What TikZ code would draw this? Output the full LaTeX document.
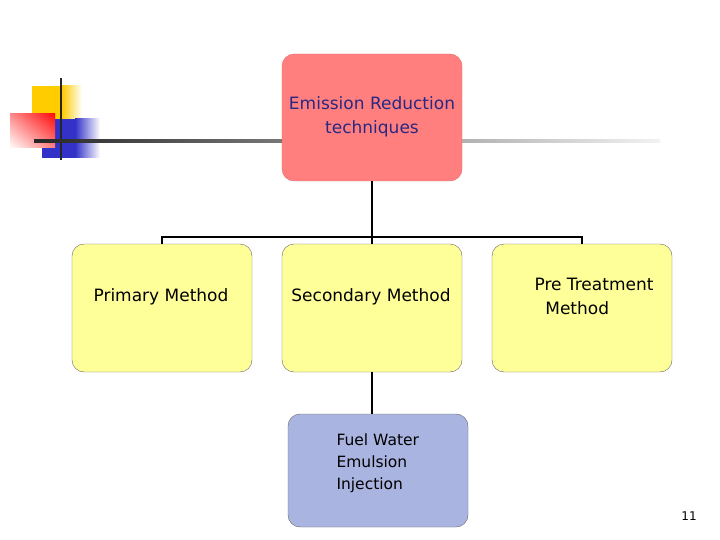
\documentclass[tikz,border=0pt]{standalone}
\usepackage{fontspec}
\setmainfont{DejaVu Sans}
\definecolor{dyel}{RGB}{255,204,0}
\definecolor{dblu}{RGB}{50,50,200}
\definecolor{tpink}{RGB}{255,127,127}
\definecolor{tpinkd}{RGB}{230,110,110}
\definecolor{tnavy}{RGB}{40,40,130}
\definecolor{lyel}{RGB}{255,255,153}
\definecolor{lblu}{RGB}{170,180,224}
\begin{document}
\begin{tikzpicture}[x=1pt,y=-1pt,
  box/.style={draw=black!60,rounded corners=12pt,minimum width=180pt},
  lbl/.style={font=\fontsize{17}{24}\selectfont,align=center},
  conn/.style={line width=2.5pt}]
\useasboundingbox (0,0) rectangle (720,540);
% decoration
\fill[dyel] (32,86) rectangle (62,120);
\shade[left color=dyel,right color=white] (62,86) rectangle (82,120);
\fill[dblu] (42,119) rectangle (75,158);
\shade[left color=dblu,right color=white] (75,119) rectangle (100,158);
\shade[left color=white,right color=red] (10,114) rectangle (55,148);
\shade[top color=red!90, bottom color=white,opacity=0.5] (10,114) rectangle (55,148);
\draw[line width=2.5pt,black!85] (61,78) -- (61,160);
\shade[left color=black!85,right color=black!5] (34,140) rectangle (660,142.5);
% nodes
\node[box,fill=tpink,draw=tpinkd,minimum height=127pt] (top) at (372,117.5) {};
\node[lbl,text=tnavy] (topl) at (372,117) {Emission Reduction\\techniques};
\node[box,fill=lyel,minimum height=128pt] (p) at (162,308) {};
\node[lbl] (pl) at (161,297) {Primary Method};
\node[box,fill=lyel,minimum height=128pt] (s) at (372,308) {};
\node[lbl] (sl) at (371,297) {Secondary Method};
\node[box,fill=lyel,minimum height=128pt] (t) at (582,308) {};
\node[lbl,align=left] (tl) at (594,296) {Pre Treatment\\\ \ Method};
\node[box,fill=lblu,minimum height=113pt] (f) at (378,470.5) {};
\node[font=\fontsize{15.5}{22}\selectfont,align=left,anchor=north west] (fl) at (333,430) {Fuel Water\\Emulsion\\Injection};
% connectors
\coordinate (j) at (372,237);
\draw[conn] (top.south) -- (j);
\draw[conn] (p.north) |- (j) -| (t.north);
\draw[conn] (j) -- (s.north);
\draw[line width=1.5pt] (s.south) -- (s.south |- f.north);
\node[font=\fontsize{12}{14}\selectfont] (pg) at (689,516) {11};
\end{tikzpicture}
\end{document}
